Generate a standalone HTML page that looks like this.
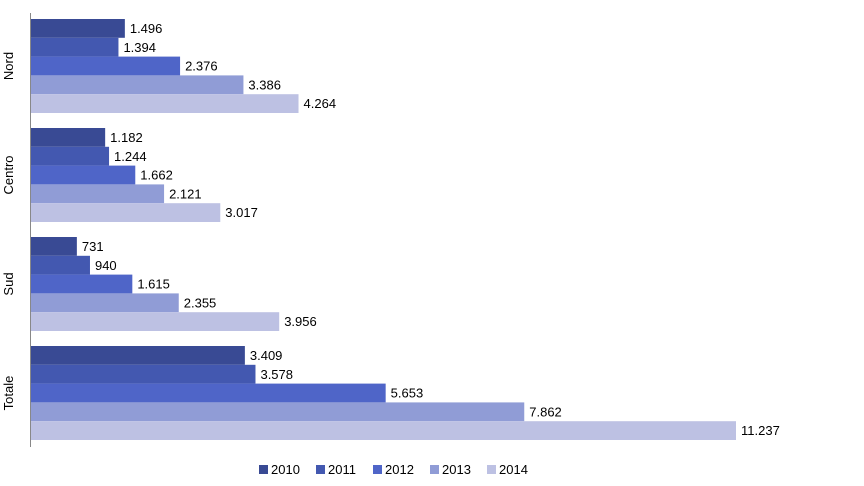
<!DOCTYPE html>
<html><head><meta charset="utf-8"><style>
body{margin:0;background:#fff;width:864px;height:481px;overflow:hidden}
text{font-family:"Liberation Sans",sans-serif;font-size:13px;fill:#000}
</style></head><body>
<svg id="chart" width="864" height="481"></svg>
<script>
const categories=["Nord","Centro","Sud","Totale"];
const seriesNames=["2010","2011","2012","2013","2014"];
const v2010=[1.496,1.182,0.731,3.409];
const v2011=[1.394,1.244,0.940,3.578];
const v2012=[2.376,1.662,1.615,5.653];
const v2013=[3.386,2.121,2.355,7.862];
const v2014=[4.264,3.017,3.956,11.237];
const labels2010=["1.496","1.182","731","3.409"];
const labels2011=["1.394","1.244","940","3.578"];
const labels2012=["2.376","1.662","1.615","5.653"];
const labels2013=["3.386","2.121","2.355","7.862"];
const labels2014=["4.264","3.017","3.956","11.237"];
const series=[v2010,v2011,v2012,v2013,v2014];
const seriesLabels=[labels2010,labels2011,labels2012,labels2013,labels2014];
const colors=["#394a94","#4358b0","#4f65c8","#909cd6","#bdc1e3"];
const svg=document.getElementById('chart');
const NS="http://www.w3.org/2000/svg";
const x0=31,pxPerUnit=705/11.237;
const xs=v=>x0+v*pxPerUnit;
const groupTop=i=>19+i*109,barH=18.8;
function mk(t,a){const e=document.createElementNS(NS,t);for(const k in a)e.setAttribute(k,a[k]);svg.appendChild(e);return e;}
categories.forEach((c,ci)=>{
  series.forEach((s,si)=>{
    const y=groupTop(ci)+si*barH;
    const r=mk('rect',{x:x0,y:y,width:xs(s[ci])-x0,height:barH,fill:colors[si]});
    
    
    const t=mk('text',{x:xs(s[ci])+5,y:y+14});
    t.textContent=seriesLabels[si][ci];
    
    
  });
  const cy=groupTop(ci)+barH*2.5;
  const ct=mk('text',{x:13,y:cy,transform:'rotate(-90 13 '+cy+')','text-anchor':'middle'});
  ct.textContent=c;
  
  
});
const ax=mk('line',{x1:30.5,y1:13,x2:30.5,y2:447,stroke:'#888','stroke-width':1});


seriesNames.forEach((n,i)=>{
  const lx=259+i*57;
  const sq=mk('rect',{x:lx,y:465,width:9,height:9,fill:colors[i]});
  
  
  const t=mk('text',{x:lx+12,y:474});
  t.textContent=n;
  
  
});
</script>
</body></html>
